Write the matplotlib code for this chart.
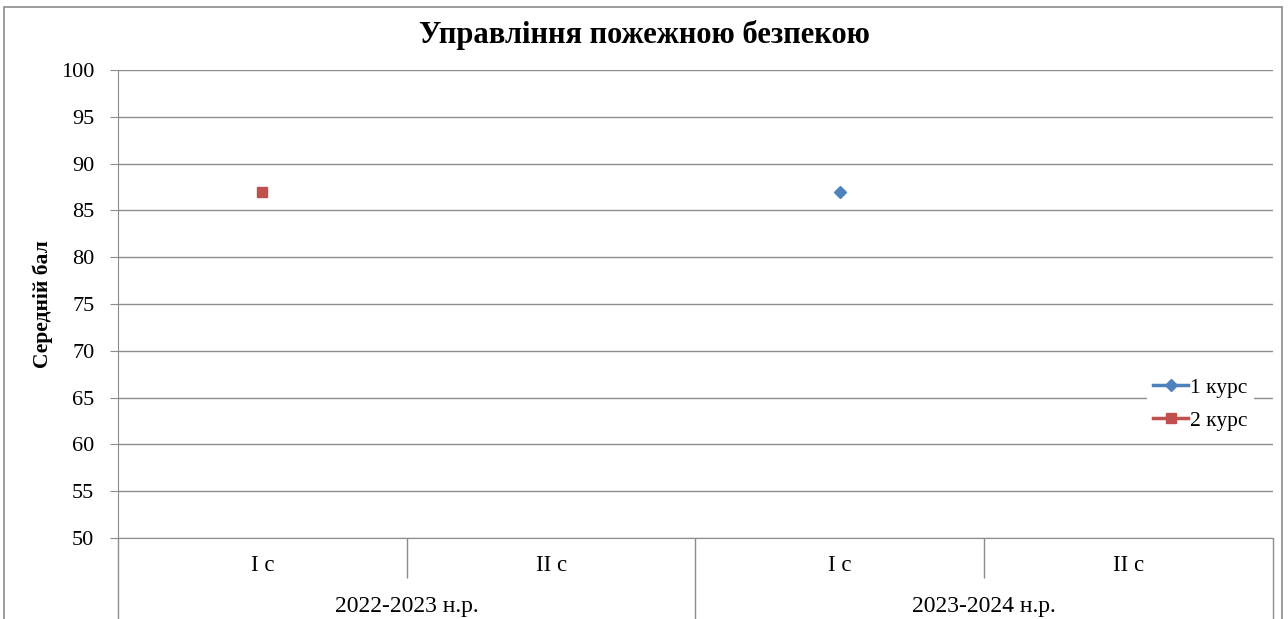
import matplotlib.pyplot as plt
import numpy as np
from matplotlib.patches import Rectangle

# дані
semesters = ['I с', 'II с', 'I с', 'II с']
years = ['2022-2023 н.р.', '2023-2024 н.р.']
kurs1 = [np.nan, np.nan, 87, np.nan]
kurs2 = [87, np.nan, np.nan, np.nan]

plt.rcParams['font.family'] = ['Liberation Serif', 'DejaVu Serif']

fig = plt.figure(figsize=(12.88, 6.19), dpi=100)
ax = fig.add_axes([0.0916, 0.1309, 0.9883 - 0.0916, 0.887 - 0.1309])

x = np.arange(len(semesters))
ax.plot(x, kurs1, color='#4F81BD', marker='D', markersize=6, linewidth=2.5, label='1 курс')
ax.plot(x, kurs2, color='#C0504D', marker='s', markersize=7.5, linewidth=2.5, label='2 курс')

ax.set_xlim(-0.5, 3.5)
ax.set_ylim(50, 100)
ax.set_yticks(np.arange(50, 101, 5))
ax.yaxis.grid(True, color='#8c8c8c', linewidth=1)
ax.set_axisbelow(True)

for s in ['top', 'right']:
    ax.spines[s].set_visible(False)
ax.spines['left'].set_color('#8c8c8c')
ax.spines['bottom'].set_color('#8c8c8c')

ax.tick_params(axis='y', length=6, color='#8c8c8c', labelsize=16, pad=11)

# рівень семестрів
ax.set_xticks(x, semesters)
ax.tick_params(axis='x', which='major', length=0, labelsize=16.5, pad=12)
ax.set_xticks([0.5, 2.5], minor=True)
ax.tick_params(axis='x', which='minor', length=29, color='#8c8c8c', width=1)

# рівень навчальних років
sec = ax.secondary_xaxis('bottom')
sec.set_xticks([-0.5, 1.5, 3.5], ['', '', ''])
sec.tick_params(axis='x', which='major', length=60, color='#8c8c8c', width=1)
sec.set_xticks([0.5, 2.5], years, minor=True)
sec.tick_params(axis='x', which='minor', length=0, labelsize=17, pad=42)
sec.spines['bottom'].set_visible(False)

ax.set_ylabel('Середній бал', fontsize=15.5, fontweight='bold', labelpad=6)
fig.suptitle('Управління пожежною безпекою', x=0.5, y=1 - 35 / 619, va='center',
             fontsize=22, fontweight='bold')

leg = ax.legend(loc='upper left', bbox_to_anchor=(1147 / 1288, 1 - 371 / 619),
                bbox_transform=fig.transFigure, frameon=True, fontsize=15.5,
                handlelength=1.6, handletextpad=0.1, borderpad=0.3, labelspacing=0.6,
                borderaxespad=0, fancybox=False)
leg.get_frame().set_edgecolor('none')
leg.get_frame().set_facecolor('white')
leg.get_frame().set_alpha(1)

fig.patches.append(Rectangle((4 / 1288, -0.1), (1282 - 4) / 1288, 1.1 - 7 / 619,
                             transform=fig.transFigure, fill=False,
                             edgecolor='#8c8c8c', linewidth=1.2, clip_on=False))

fig.savefig('out.png', dpi=100)
